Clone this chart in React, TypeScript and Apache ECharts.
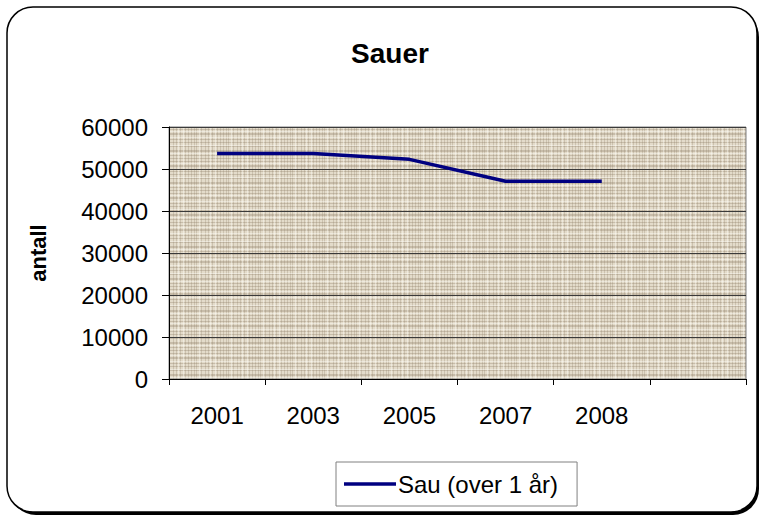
import React, { useEffect, useRef } from "react";
import * as echarts from "echarts";

const categories = ["2001", "2003", "2005", "2007", "2008", ""];
const sauValues = [53700, 53700, 52300, 47100, 47100];
const seriesName = "Sau (over 1 år)";
const titleText = "Sauer";
const yAxisName = "antall";

function makeTexture(): HTMLCanvasElement {
  const c = document.createElement("canvas");
  c.width = 32;
  c.height = 32;
  const g = c.getContext("2d")!;
  g.fillStyle = "#e3dbca";
  g.fillRect(0, 0, 32, 32);
  const darkRows = [1, 5, 6, 11, 14, 18, 22, 23, 27, 30];
  const darkCols = [2, 4, 9, 13, 16, 20, 25, 28, 31];
  g.fillStyle = "rgba(140,125,100,0.32)";
  darkRows.forEach((r) => g.fillRect(0, r, 32, 1));
  g.fillStyle = "rgba(140,125,100,0.26)";
  darkCols.forEach((col) => g.fillRect(col, 0, 1, 32));
  g.fillStyle = "rgba(255,255,250,0.4)";
  [3, 9, 17, 25].forEach((r) => g.fillRect(0, r, 32, 1));
  [7, 18, 23].forEach((col) => g.fillRect(col, 0, 1, 32));
  return c;
}

export default function App() {
  const ref = useRef<HTMLDivElement>(null);
  useEffect(() => {
    if (!ref.current) return;
    const chart = echarts.init(ref.current, null, { renderer: "svg" });
    const font = "Arial, 'Liberation Sans', sans-serif";
    const tex = makeTexture();
    chart.setOption({
      animation: false,
      backgroundColor: "#ffffff",
      graphic: [
        {
          type: "rect",
          z: -10,
          silent: true,
          shape: { x: 10, y: 11, width: 749, height: 504, r: 26 },
          style: { fill: "#000000" },
        },
        {
          type: "rect",
          z: -9,
          silent: true,
          shape: { x: 7, y: 7, width: 750, height: 505, r: 26 },
          style: { fill: "#ffffff", stroke: "#000000", lineWidth: 1.5 },
        },
      ],
      title: {
        text: titleText,
        left: 385,
        textAlign: "center",
        top: 34,
        textStyle: { fontFamily: font, fontSize: 28, fontWeight: "bold", color: "#000" },
      },
      legend: {
        left: 336,
        top: 462,
        padding: [10, 19, 10, 8],
        itemWidth: 52,
        itemHeight: 12,
        itemGap: 5,
        backgroundColor: "#ffffff",
        borderColor: "#808080",
        borderWidth: 1,
        borderRadius: 0,
        textStyle: { fontFamily: font, fontSize: 24, color: "#000", padding: [0, 0, 0, -3] },
        data: [{ name: seriesName, icon: "path://M0,0 L52,0 L52,3.5 L0,3.5 Z" }],
      },
      grid: {
        left: 169,
        right: 15,
        top: 127,
        bottom: 138,
        show: true,
        backgroundColor: { image: tex, repeat: "repeat" },
        borderColor: "#808080",
        borderWidth: 1,
      },
      xAxis: {
        type: "category",
        data: categories,
        boundaryGap: true,
        axisLine: { show: true, lineStyle: { color: "#000", width: 1 } },
        axisTick: { show: true, length: 6, interval: 0, lineStyle: { color: "#000" } },
        axisLabel: { fontFamily: font, fontSize: 24, color: "#000", margin: 24, interval: 0 },
        splitLine: { show: false },
      },
      yAxis: {
        type: "value",
        min: 0,
        max: 60000,
        interval: 10000,
        name: yAxisName,
        nameLocation: "middle",
        nameGap: 120,
        nameRotate: 90,
        nameTextStyle: { fontFamily: font, fontSize: 22, fontWeight: "bold", color: "#000" },
        axisLine: { show: true, lineStyle: { color: "#000", width: 1 } },
        axisTick: { show: true, length: 7, lineStyle: { color: "#000" } },
        axisLabel: {
          fontFamily: font,
          fontSize: 24,
          color: "#000",
          margin: 21,
          formatter: (v: number) => String(v),
        },
        splitLine: { show: true, lineStyle: { color: "#3a3a3a", width: 1 } },
      },
      series: [
        {
          name: seriesName,
          type: "line",
          data: sauValues,
          symbol: "none",
          lineStyle: { color: "#000080", width: 3.5 },
          itemStyle: { color: "#000080" },
        },
      ],
    });
    return () => chart.dispose();
  }, []);
  return (
    <div
      ref={ref}
      style={{ position: "fixed", left: 0, top: 0, width: 761, height: 517 }}
    />
  );
}
